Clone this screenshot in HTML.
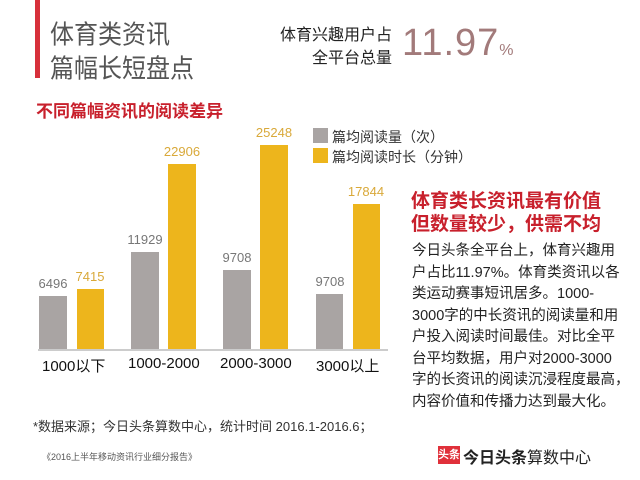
<!DOCTYPE html>
<html><head><meta charset="utf-8"><style>
body{margin:0;width:640px;height:480px;background:#fff;position:relative;overflow:hidden;font-family:"Liberation Sans","Noto Sans CJK SC",sans-serif;}
div{position:absolute;white-space:nowrap;}
.b{position:absolute;}
.g{background:#a9a4a3}.y{background:#edb51c}
.vg{color:#777;font-size:13px;text-align:center;width:40px}
.vy{color:#d9a93a;font-size:13px;text-align:center;width:40px}
.xl{font-size:15px;color:#111;top:355px}
.body{left:412px;font-size:14.5px;color:#222;line-height:21.5px;top:241px}
</style></head><body>
<div class="b" style="left:35px;top:0;width:5px;height:78px;background:#d7303b"></div>
<div style="left:50px;top:18px;font-size:24px;color:#555;line-height:31px;transform:scaleY(1.1);transform-origin:0 0">体育类资讯<br>篇幅长短盘点</div>
<div style="left:280px;top:24px;width:112px;text-align:right;font-size:16px;line-height:23px;color:#222">体育兴趣用户占<br>全平台总量</div>
<div style="left:402px;top:22px;font-size:38px;color:#a27a7a;letter-spacing:1px">11.97<span style="font-size:16px">%</span></div>
<div style="left:36px;top:97px;font-size:17px;font-weight:bold;color:#c8202c">不同篇幅资讯的阅读差异</div>

<div class="b g" style="left:39px;top:296px;width:28px;height:53px"></div>
<div class="b y" style="left:77px;top:289px;width:27px;height:60px"></div>
<div class="b g" style="left:131px;top:252px;width:28px;height:97px"></div>
<div class="b y" style="left:168px;top:164px;width:28px;height:185px"></div>
<div class="b g" style="left:223px;top:270px;width:28px;height:79px"></div>
<div class="b y" style="left:260px;top:145px;width:28px;height:204px"></div>
<div class="b g" style="left:316px;top:294px;width:27px;height:55px"></div>
<div class="b y" style="left:353px;top:204px;width:27px;height:145px"></div>
<div class="b" style="left:38px;top:349px;width:350px;height:2px;background:#ccc"></div>

<div class="vg" style="left:33px;top:276px">6496</div>
<div class="vy" style="left:70px;top:269px">7415</div>
<div class="vg" style="left:125px;top:232px">11929</div>
<div class="vy" style="left:162px;top:144px">22906</div>
<div class="vg" style="left:217px;top:250px">9708</div>
<div class="vy" style="left:254px;top:125px">25248</div>
<div class="vg" style="left:310px;top:274px">9708</div>
<div class="vy" style="left:346px;top:184px">17844</div>

<div class="xl" style="left:42px">1000以下</div>
<div class="xl" style="left:128px">1000-2000</div>
<div class="xl" style="left:220px">2000-3000</div>
<div class="xl" style="left:316px">3000以上</div>

<div class="b g" style="left:313px;top:128px;width:15px;height:15px"></div>
<div class="b y" style="left:313px;top:148px;width:15px;height:15px"></div>
<div style="left:332px;top:127px;font-size:14px;color:#333">篇均阅读量（次）</div>
<div style="left:332px;top:147px;font-size:14px;color:#333">篇均阅读时长（分钟）</div>

<div style="left:411px;top:190px;font-size:19px;font-weight:bold;color:#c8202c;line-height:23px">体育类长资讯最有价值<br>但数量较少，供需不均</div>
<div class="body">今日头条全平台上，体育兴趣用<br>户占比11.97%。体育类资讯以各<br>类运动赛事短讯居多。1000-<br>3000字的中长资讯的阅读量和用<br>户投入阅读时间最佳。对比全平<br>台平均数据，用户对2000-3000<br>字的长资讯的阅读沉浸程度最高，<br>内容价值和传播力达到最大化。</div>

<div style="left:33px;top:416px;font-size:13px;color:#333">*数据来源；今日头条算数中心，统计时间 2016.1-2016.6；</div>
<div style="left:42px;top:450px;font-size:9px;color:#555">《2016上半年移动资讯行业细分报告》</div>
<div class="b" style="left:438px;top:446px;width:22px;height:18px;background:#e0303a;color:#fff;font-size:11px;font-weight:bold;text-align:center;line-height:18px">头条</div>
<div style="left:463px;top:444px;font-size:16px;color:#222"><b>今日头条</b>算数中心</div>
</body></html>
